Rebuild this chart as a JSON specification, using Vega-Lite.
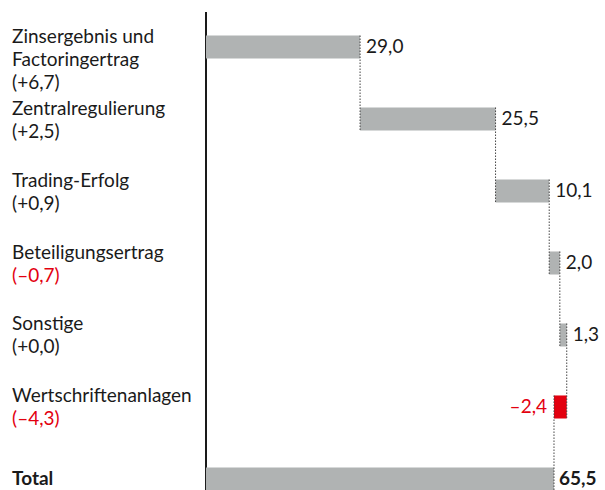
{
  "$schema": "https://vega.github.io/schema/vega-lite/v6.json",
  "width": 605,
  "height": 478,
  "padding": {"top": 12, "left": 0, "right": 0, "bottom": 0},
  "autosize": {"type": "none"},
  "background": "white",
  "config": {"view": {"stroke": null}, "text": {"font": "Lato", "fontSize": 19}},
  "data": {
    "values": [
      {"name": "Zinsergebnis und|Factoringertrag", "change": "(+6,7)", "delta": 6.7, "start": 0, "end": 29.0, "value": 29.0, "label": "29,0", "next": "Zentralregulierung", "total": false},
      {"name": "Zentralregulierung", "change": "(+2,5)", "delta": 2.5, "start": 29.0, "end": 54.5, "value": 25.5, "label": "25,5", "next": "Trading-Erfolg", "total": false},
      {"name": "Trading-Erfolg", "change": "(+0,9)", "delta": 0.9, "start": 54.5, "end": 64.6, "value": 10.1, "label": "10,1", "next": "Beteiligungsertrag", "total": false},
      {"name": "Beteiligungsertrag", "change": "(–0,7)", "delta": -0.7, "start": 64.6, "end": 66.6, "value": 2.0, "label": "2,0", "next": "Sonstige", "total": false},
      {"name": "Sonstige", "change": "(+0,0)", "delta": 0.0, "start": 66.6, "end": 67.9, "value": 1.3, "label": "1,3", "next": "Wertschriftenanlagen", "total": false},
      {"name": "Wertschriftenanlagen", "change": "(–4,3)", "delta": -4.3, "start": 67.9, "end": 65.5, "value": -2.4, "label": "–2,4", "next": "Total", "total": false},
      {"name": "Total", "change": "", "delta": 0, "start": 0, "end": 65.5, "value": 65.5, "label": "65,5", "next": null, "total": true}
    ]
  },
  "transform": [
    {"calculate": "split(datum.name, '|')", "as": "nameLines"}
  ],
  "encoding": {
    "y": {"field": "name", "type": "nominal", "sort": null, "axis": null,
          "scale": {"range": [23.5, 478.5], "paddingInner": 0.68, "paddingOuter": 0}}
  },
  "layer": [
    {
      "mark": {"type": "rule", "color": "#1a1a1a", "strokeWidth": 1},
      "encoding": {
        "x": {"datum": 0, "type": "quantitative",
              "scale": {"domain": [-38.77, 75.1], "nice": false, "zero": false}, "axis": null},
        "y": null
      }
    },
    {
      "mark": {"type": "bar"},
      "encoding": {
        "x": {"field": "start", "type": "quantitative"},
        "x2": {"field": "end"},
        "color": {"condition": {"test": "datum.value < 0", "value": "#e3000f"}, "value": "#b0b3b3"}
      }
    },
    {
      "transform": [{"filter": "datum.next != null"}],
      "mark": {"type": "rule", "color": "#444444", "strokeWidth": 1, "strokeDash": [1.5, 1.5]},
      "encoding": {
        "x": {"field": "end", "type": "quantitative"},
        "y": {"field": "name", "type": "nominal", "bandPosition": 0},
        "y2": {"field": "next", "bandPosition": 1}
      }
    },
    {
      "transform": [{"filter": "!datum.total"}],
      "mark": {"type": "text", "align": "left", "baseline": "alphabetic", "dy": -4.5, "lineHeight": 23, "color": "#1a1a1a"},
      "encoding": {
        "x": {"datum": -36.5, "type": "quantitative"},
        "text": {"field": "nameLines"}
      }
    },
    {
      "transform": [{"filter": "!datum.total && indexof(datum.name, '|') < 0"}],
      "mark": {"type": "text", "align": "left", "baseline": "alphabetic", "dy": 18.5},
      "encoding": {
        "x": {"datum": -36.5, "type": "quantitative"},
        "text": {"field": "change"},
        "color": {"condition": {"test": "datum.delta < 0", "value": "#e3000f"}, "value": "#1a1a1a"}
      }
    },
    {
      "transform": [{"filter": "!datum.total && indexof(datum.name, '|') >= 0"}],
      "mark": {"type": "text", "align": "left", "baseline": "alphabetic", "dy": 41.5},
      "encoding": {
        "x": {"datum": -36.5, "type": "quantitative"},
        "text": {"field": "change"},
        "color": {"condition": {"test": "datum.delta < 0", "value": "#e3000f"}, "value": "#1a1a1a"}
      }
    },
    {
      "transform": [{"filter": "datum.total"}],
      "mark": {"type": "text", "align": "left", "baseline": "middle", "fontWeight": "bold", "color": "#1a1a1a"},
      "encoding": {
        "x": {"datum": -36.5, "type": "quantitative"},
        "text": {"field": "name"}
      }
    },
    {
      "transform": [{"filter": "!datum.total && datum.value >= 0"}],
      "mark": {"type": "text", "align": "left", "baseline": "middle", "dx": 6, "color": "#1a1a1a"},
      "encoding": {
        "x": {"field": "end", "type": "quantitative"},
        "text": {"field": "label"}
      }
    },
    {
      "transform": [{"filter": "datum.value < 0"}],
      "mark": {"type": "text", "align": "right", "baseline": "middle", "dx": -7, "color": "#e3000f"},
      "encoding": {
        "x": {"field": "end", "type": "quantitative"},
        "text": {"field": "label"}
      }
    },
    {
      "transform": [{"filter": "datum.total"}],
      "mark": {"type": "text", "align": "left", "baseline": "middle", "dx": 5, "fontWeight": "bold", "color": "#1a1a1a"},
      "encoding": {
        "x": {"field": "end", "type": "quantitative"},
        "text": {"field": "label"}
      }
    }
  ]
}
